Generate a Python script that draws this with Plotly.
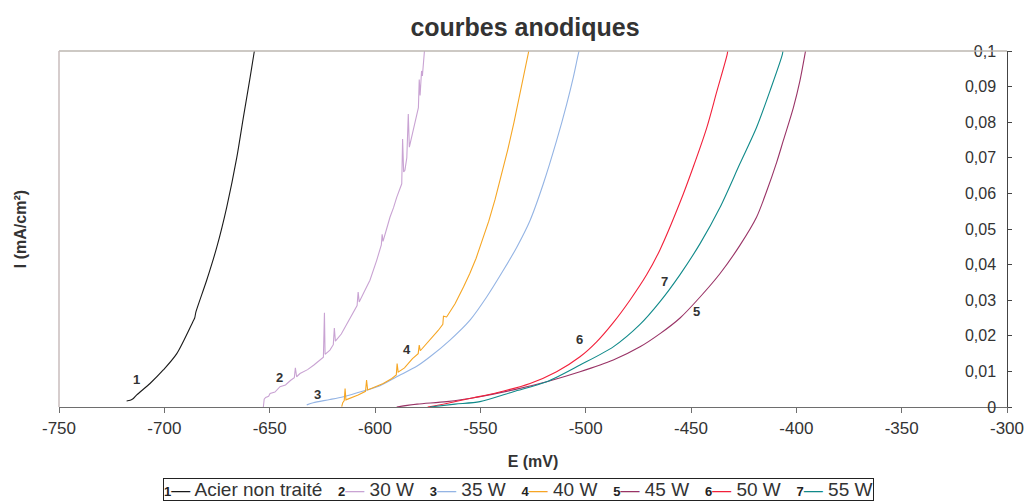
import plotly.graph_objects as go

# ---- data ----
names = ["Acier non traité", "30 W", "35 W", "40 W", "45 W", "50 W", "55 W"]
numbers = ["1", "2", "3", "4", "5", "6", "7"]
colors = ["#1a1a1a", "#c9a3d3", "#94b4e4", "#f6a623", "#993366", "#f2203a", "#108a8a"]

E1 = [-717.9, -716.2, -714.7, -713.1, -706.8, -700.5, -694.1, -686.5, -685.6, -685.0,
      -679.9, -675.1, -670.4, -665.6, -662.5, -659.3, -657.4, -656.8]
I1 = [0.0017, 0.0019, 0.0024, 0.0034, 0.0066, 0.0104, 0.0150, 0.0239, 0.0250, 0.0267,
      0.0356, 0.0449, 0.0561, 0.0701, 0.0813, 0.0925, 0.0995, 0.1015]

E2 = [-653.0, -652.6, -651.9, -650.5, -649.8, -647.5, -645.1, -642.5, -640.0, -638.3,
      -637.8, -637.2, -635.6, -632.0, -629.0, -626.1, -624.5, -624.0, -623.7, -621.4,
      -619.8, -619.3, -618.8, -616.0, -613.4, -610.5, -608.5, -608.0, -607.5, -605.0,
      -602.4, -599.2, -597.0, -596.6, -596.2, -594.5, -592.9, -591.2, -589.7, -587.3,
      -586.9, -586.4, -585.8, -584.9, -584.2, -583.7, -582.3, -581.0, -579.4, -579.0,
      -578.6, -577.9, -577.5, -576.6, -576.0]
I2 = [0.0000, 0.0022, 0.0027, 0.0030, 0.0038, 0.0042, 0.0057, 0.0062, 0.0075, 0.0082,
      0.0110, 0.0085, 0.0094, 0.0105, 0.0118, 0.0132, 0.0140, 0.0265, 0.0148, 0.0160,
      0.0175, 0.0222, 0.0185, 0.0205, 0.0234, 0.0262, 0.0285, 0.0323, 0.0295, 0.0325,
      0.0356, 0.0412, 0.0455, 0.0485, 0.0465, 0.0500, 0.0533, 0.0560, 0.0589, 0.0627,
      0.0753, 0.0660, 0.0665, 0.0700, 0.0823, 0.0730, 0.0765, 0.0795, 0.0841, 0.0920,
      0.0875, 0.0944, 0.0930, 0.0995, 0.1030]

E3 = [-632.4, -629.3, -621.4, -615.0, -605.5, -597.6, -589.7, -580.0, -573.9, -564.4,
      -554.9, -547.0, -539.1, -532.7, -526.4, -520.1, -513.8, -509.0, -505.9, -503.5, -502.9]
I3 = [0.0006, 0.0012, 0.0021, 0.0029, 0.0045, 0.0060, 0.0085, 0.0115, 0.0141, 0.0188,
      0.0244, 0.0309, 0.0384, 0.0449, 0.0524, 0.0627, 0.0748, 0.0851, 0.0925, 0.0991, 0.1005]

E4 = [-615.8, -615.3, -614.6, -614.2, -613.8, -611.9, -608.0, -604.5, -604.0, -603.5,
      -600.0, -596.1, -592.0, -589.9, -589.5, -589.0, -586.0, -582.2, -579.5, -579.0,
      -578.5, -573.9, -570.0, -567.8, -567.5, -566.0, -562.0, -558.0, -555.0, -552.0,
      -549.0, -546.0, -543.0, -540.0, -537.0, -534.0, -531.0, -528.0, -527.0]
I4 = [0.0001, 0.0012, 0.0018, 0.0052, 0.0020, 0.0024, 0.0034, 0.0044, 0.0076, 0.0048,
      0.0056, 0.0066, 0.0080, 0.0090, 0.0122, 0.0098, 0.0110, 0.0136, 0.0150, 0.0174,
      0.0158, 0.0188, 0.0215, 0.0232, 0.0255, 0.0253, 0.0290, 0.0337, 0.0375, 0.0418,
      0.0468, 0.0522, 0.0583, 0.0650, 0.0722, 0.0800, 0.0882, 0.0968, 0.1000]

E5 = [-589.7, -580.0, -566.0, -550.2, -534.3, -518.5, -502.7, -486.9, -474.2, -464.7,
      -455.2, -445.7, -436.2, -426.8, -418.9, -414.1, -409.3, -406.2, -401.4, -398.3,
      -395.9, -395.5]
I5 = [0.0000, 0.0008, 0.0015, 0.0029, 0.0048, 0.0071, 0.0099, 0.0132, 0.0169, 0.0206,
      0.0250, 0.0309, 0.0375, 0.0454, 0.0533, 0.0606, 0.0688, 0.0748, 0.0841, 0.0916,
      0.0991, 0.1005]

E6 = [-575.0, -566.0, -553.3, -542.2, -526.4, -513.8, -502.7, -494.8, -486.9, -479.0,
      -471.0, -464.7, -455.2, -448.9, -442.5, -437.8, -432.8, -432.5]
I6 = [0.0000, 0.0010, 0.0026, 0.0040, 0.0066, 0.0099, 0.0141, 0.0183, 0.0237, 0.0300,
      0.0372, 0.0442, 0.0575, 0.0675, 0.0785, 0.0885, 0.0991, 0.1005]

E7 = [-573.9, -562.0, -550.2, -534.3, -518.5, -502.7, -486.9, -474.2, -464.7,
      -455.2, -445.7, -436.2, -426.8, -418.9, -412.5, -406.6, -406.3]
I7 = [0.0000, 0.0008, 0.0015, 0.0043, 0.0071, 0.0118, 0.0169, 0.0232, 0.0296,
      0.0372, 0.0459, 0.0561, 0.0683, 0.0785, 0.0888, 0.0991, 0.1005]

label_E = [-713.4, -645.1, -627.1, -584.8, -447.2, -502.7, -462.8]
label_I = [0.0076, 0.0084, 0.0036, 0.0162, 0.0269, 0.0190, 0.0353]

x_ticks = [-750, -700, -650, -600, -550, -500, -450, -400, -350, -300]
x_ticktext = ["-750", "-700", "-650", "-600", "-550", "-500", "-450", "-400", "-350", "-300"]
y_ticks = [0, 0.01, 0.02, 0.03, 0.04, 0.05, 0.06, 0.07, 0.08, 0.09, 0.1]
y_ticktext = ["0", "0,01", "0,02", "0,03", "0,04", "0,05", "0,06", "0,07", "0,08", "0,09", "0,1"]

series = [(E1, I1), (E2, I2), (E3, I3), (E4, I4), (E5, I5), (E6, I6), (E7, I7)]
smooth = [True, False, True, False, True, True, True]

FONT = "Liberation Sans, Arial, sans-serif"
TXT = "#333333"

fig = go.Figure()
for (ex, iy), nm, col, sm in zip(series, names, colors, smooth):
    fig.add_trace(go.Scatter(
        x=ex, y=iy, mode="lines", name=nm,
        line=dict(color=col, width=1.1, shape="spline" if sm else "linear",
                  smoothing=0.8 if sm else 0),
        showlegend=False,
    ))

# empty helper trace so the label-only y axis (y2) is drawn
fig.add_trace(go.Scatter(x=[], y=[], yaxis="y2", showlegend=False, hoverinfo="skip"))

# curve number labels
for n, ex, iy in zip(numbers, label_E, label_I):
    fig.add_annotation(x=ex, y=iy, xref="x", yref="y", text="<b>%s</b>" % n,
                       showarrow=False, font=dict(family=FONT, size=13, color=TXT))

# custom legend (number, line sample, name) in a box
parts = []
for n, nm, col in zip(numbers, names, colors):
    parts.append('<b><span style="font-size:13px;color:#222">%s</span></b>'
                 '<span style="color:%s">—</span> %s' % (n, col, nm))
legend_text = "&nbsp;&nbsp;&nbsp;".join(parts)
fig.add_annotation(x=0.485, y=-0.233, xref="paper", yref="paper", text=legend_text,
                   showarrow=False, xanchor="center", yanchor="middle",
                   font=dict(family=FONT, size=19, color=TXT),
                   bordercolor="#222222", borderwidth=1, borderpad=0, bgcolor="white")

# y-axis title on the left
fig.add_annotation(x=-0.041, y=0.5, xref="paper", yref="paper", text="<b>I (mA/cm²)</b>",
                   textangle=-90, showarrow=False, xanchor="center", yanchor="middle",
                   font=dict(family=FONT, size=16, color=TXT))

# top and left frame lines of the plot area
fig.add_shape(type="line", xref="paper", yref="paper", x0=0, x1=1, y0=1, y1=1,
              line=dict(color="#bdb7b0", width=1.5))
fig.add_shape(type="line", xref="paper", yref="paper", x0=0, x1=0, y0=0, y1=1,
              line=dict(color="#c8bcbc", width=1.5))

fig.update_layout(
    width=1028, height=501,
    margin=dict(l=59, r=21, t=51, b=94, autoexpand=False),
    paper_bgcolor="white", plot_bgcolor="white",
    title=dict(text="<b>courbes anodiques</b>", x=0.4916, xref="paper", xanchor="center",
               y=1 - 27 / 501, yref="container", yanchor="middle",
               font=dict(family=FONT, size=25, color=TXT)),
    font=dict(family=FONT, color=TXT),
    xaxis=dict(range=[-750, -300], tickvals=x_ticks, ticktext=x_ticktext, automargin=False,
               showgrid=False, zeroline=False, showline=True, linecolor="#6e6e6e",
               linewidth=1.3, ticks="outside", ticklen=5, tickcolor="#6e6e6e",
               tickfont=dict(family=FONT, size=17, color=TXT),
               title=dict(text="<b>E (mV)</b>", font=dict(family=FONT, size=16, color=TXT),
                          standoff=19)),
    # axis line + outside ticks on the right, no labels
    yaxis=dict(range=[0, 0.1], side="right", tickvals=y_ticks, showticklabels=False,
               automargin=False,
               showgrid=False, zeroline=False, showline=True, linecolor="#444444",
               linewidth=1.3, ticks="outside", ticklen=4, tickcolor="#444444"),
    # label-only axis placed a little left of the right edge, labels inside
    yaxis2=dict(range=[0, 0.1], overlaying="y", anchor="free", side="right",
                position=0.9916, tickvals=y_ticks, ticktext=y_ticktext,
                automargin=False, showgrid=False, zeroline=False, showline=False,
                ticks="", ticklabelposition="inside", ticklabeloverflow="allow",
                tickfont=dict(family=FONT, size=16, color=TXT)),
)

# remove the browser's default 8 px body margin so the figure fills the window
fig.write_html("out.html", config={"displayModeBar": False},
               post_script="document.body.style.margin='0';"
                           "document.documentElement.style.overflow='hidden';")
